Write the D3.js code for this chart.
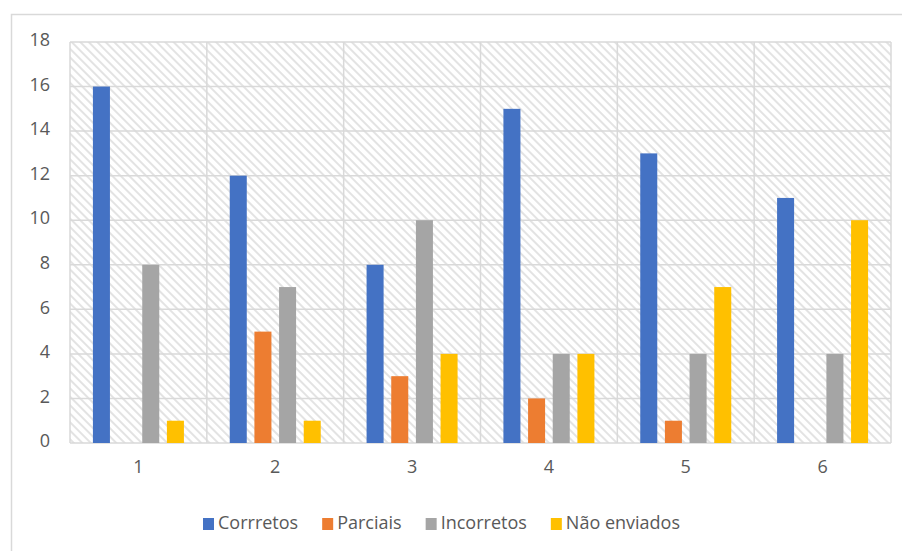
<!DOCTYPE html>
<html>
<head>
<meta charset="utf-8">
<script src="https://cdn.jsdelivr.net/npm/d3@7"></script>
<style>
  html, body { margin: 0; padding: 0; background: #fff; }
  svg { display: block; }
</style>
</head>
<body>
<svg id="chart" width="902" height="551"></svg>
<script>
// Number of answers per question, by outcome
const categories = ["1", "2", "3", "4", "5", "6"];
const seriesNames = ["Corrretos", "Parciais", "Incorretos", "Não enviados"];
const corretos    = [16, 12, 8, 15, 13, 11];
const parciais    = [0, 5, 3, 2, 1, 0];
const incorretos  = [8, 7, 10, 4, 4, 4];
const naoEnviados = [1, 1, 4, 4, 7, 10];
const yTicks = [0, 2, 4, 6, 8, 10, 12, 14, 16, 18];

const seriesValues = [corretos, parciais, incorretos, naoEnviados];
const colors = ["#4472C4", "#ED7D31", "#A5A5A5", "#FFC000"];
const textColor = "#595959";
const gridColor = "#D9D9D9";
const font = "'Open Sans', 'Noto Sans', sans-serif";

const svg = d3.select("#chart");
const plot = { left: 70, right: 891, top: 42, bottom: 443 };

// Chart frame (open at right/bottom edges of the window)
svg.append("rect")
  .attr("x", 11.5).attr("y", 14.5)
  .attr("width", 1000).attr("height", 1000)
  .attr("fill", "#fff")
  .attr("stroke", gridColor).attr("stroke-width", 1.5);

// Diagonal hatch for the plot background (downward diagonal)
const defs = svg.append("defs");
const pat = defs.append("pattern")
  .attr("id", "hatch")
  .attr("patternUnits", "userSpaceOnUse")
  .attr("width", 6).attr("height", 6)
  .attr("patternTransform", "rotate(45)");
pat.append("line")
  .attr("x1", 0).attr("y1", 3).attr("x2", 6).attr("y2", 3)
  .attr("stroke", "#DCDCDC").attr("stroke-width", 1.6);

const x = d3.scaleBand().domain(categories).range([plot.left, plot.right]).paddingInner(0).paddingOuter(0);
const groupWidth = 91;
const xs = d3.scaleBand().domain(seriesNames).range([-groupWidth / 2, groupWidth / 2]).paddingInner(0.31).paddingOuter(0);
const y = d3.scaleLinear().domain([0, 18]).range([plot.bottom, plot.top]);

svg.append("rect")
  .attr("x", plot.left).attr("y", plot.top)
  .attr("width", plot.right - plot.left).attr("height", plot.bottom - plot.top)
  .attr("fill", "url(#hatch)");

// Horizontal gridlines
svg.append("g").selectAll("line").data(yTicks).join("line")
  .attr("x1", plot.left).attr("x2", plot.right)
  .attr("y1", d => y(d)).attr("y2", d => y(d))
  .attr("stroke", gridColor).attr("stroke-width", 1.5);

// Vertical gridlines at category boundaries
const bounds = categories.map(c => x(c)).concat([plot.right]);
svg.append("g").selectAll("line").data(bounds).join("line")
  .attr("x1", d => d).attr("x2", d => d)
  .attr("y1", plot.top).attr("y2", plot.bottom)
  .attr("stroke", gridColor).attr("stroke-width", 1.5);

// Bars
const flat = [];
categories.forEach((c, i) => seriesNames.forEach((s, j) => flat.push({ c, s, v: seriesValues[j][i], color: colors[j] })));
svg.append("g").selectAll("rect").data(flat.filter(d => d.v > 0)).join("rect")
  .attr("x", d => x(d.c) + x.bandwidth() / 2 + xs(d.s))
  .attr("width", xs.bandwidth())
  .attr("y", d => y(d.v))
  .attr("height", d => y(0) - y(d.v))
  .attr("fill", d => d.color);

// Y axis labels
const yAxis = d3.axisLeft(y).tickValues(yTicks).tickSize(0).tickPadding(0);
const gy = svg.append("g").attr("transform", `translate(50,-2)`).call(yAxis);
gy.select(".domain").remove();
gy.selectAll("text").attr("fill", textColor).style("font-family", font).style("font-size", "18px");

// X axis labels
const xAxis = d3.axisBottom(x).tickSize(0).tickPadding(0);
const gx = svg.append("g").attr("transform", `translate(0,460)`).call(xAxis);
gx.select(".domain").remove();
gx.selectAll("text").attr("fill", textColor).style("font-family", font).style("font-size", "18px");

// Legend
const legend = svg.append("g");
let lx = 203;
seriesNames.forEach((name, j) => {
  legend.append("rect")
    .attr("x", lx).attr("y", 518).attr("width", 11).attr("height", 12)
    .attr("fill", colors[j]);
  const t = legend.append("text")
    .attr("x", lx + 15).attr("y", 529)
    .attr("fill", textColor)
    .style("font-family", font).style("font-size", "18px")
    .text(name);
  lx += 15 + t.node().getComputedTextLength() + 24;
});
</script>
</body>
</html>
